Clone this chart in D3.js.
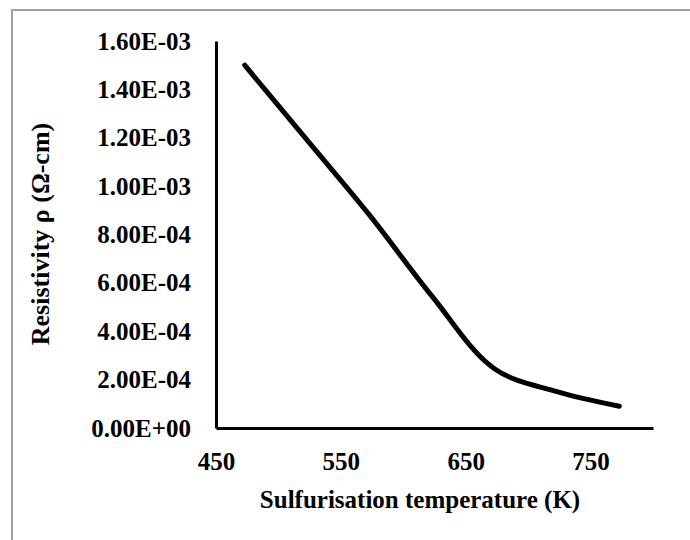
<!DOCTYPE html>
<html>
<head>
<meta charset="utf-8">
<script src="https://cdn.jsdelivr.net/npm/d3@7"></script>
<style>
  body { margin: 0; background: #fff; }
  svg text { font-family: "Liberation Serif", "Times New Roman", serif; font-weight: bold; fill: #000; }
</style>
</head>
<body>
<script>
// data
var temps = [473, 523, 573, 623, 673, 723, 773];
var resistivity = [1.50e-3, 1.19e-3, 0.88e-3, 0.545e-3, 0.245e-3, 0.15e-3, 0.09e-3];
var xTicks = [450, 550, 650, 750];
var yTicks = [0, 2e-4, 4e-4, 6e-4, 8e-4, 1e-3, 1.2e-3, 1.4e-3, 1.6e-3];

var w = 690, h = 540;
var svg = d3.select('body').append('svg')
  .attr('width', w)
  .attr('height', h);

// outer frame (runs off the right/bottom edge)
svg.append('rect')
  .attr('x', 12).attr('y', 10)
  .attr('width', 700).attr('height', 560)
  .attr('fill', 'none')
  .attr('stroke', '#a0a0a0')
  .attr('stroke-width', 2);

var x = d3.scaleLinear().domain([450, 800]).range([216, 653]);
var y = d3.scaleLinear().domain([0, 1.6e-3]).range([428, 41]);

// Excel style: 1.60E-03, 0.00E+00
var fmt = function(d) {
  var s = d.toExponential(2).toUpperCase();
  return s.replace(/E([+-])(\d)$/, 'E$10$2');
};

var xAxis = d3.axisBottom(x).tickValues(xTicks).tickSize(0).tickPadding(24);
var yAxis = d3.axisLeft(y).tickValues(yTicks).tickSize(0).tickPadding(25).tickFormat(fmt);

var gx = svg.append('g')
  .attr('transform', 'translate(0,428)')
  .call(xAxis);
gx.select('.domain').attr('stroke', '#000').attr('stroke-width', 3);
gx.selectAll('text').style('font-size', '25px');

var gy = svg.append('g')
  .attr('transform', 'translate(216,0)')
  .call(yAxis);
gy.select('.domain').attr('stroke', '#000').attr('stroke-width', 3);
gy.selectAll('text').style('font-size', '25px');

// the curve
var line = d3.line()
  .x(function(d, i) { return x(temps[i]); })
  .y(function(d) { return y(d); })
  .curve(d3.curveCatmullRom.alpha(0.5));

svg.append('path')
  .datum(resistivity)
  .attr('d', line)
  .attr('fill', 'none')
  .attr('stroke', '#000')
  .attr('stroke-width', 5)
  .attr('stroke-linecap', 'round')
  .attr('stroke-linejoin', 'round');

// axis titles
svg.append('text')
  .attr('x', 420).attr('y', 508)
  .attr('text-anchor', 'middle')
  .style('font-size', '25px')
  .text('Sulfurisation temperature (K)');

svg.append('text')
  .attr('transform', 'translate(49,234) rotate(-90)')
  .attr('text-anchor', 'middle')
  .style('font-size', '26px')
  .text('Resistivity ρ (Ω-cm)');
</script>
</body>
</html>
